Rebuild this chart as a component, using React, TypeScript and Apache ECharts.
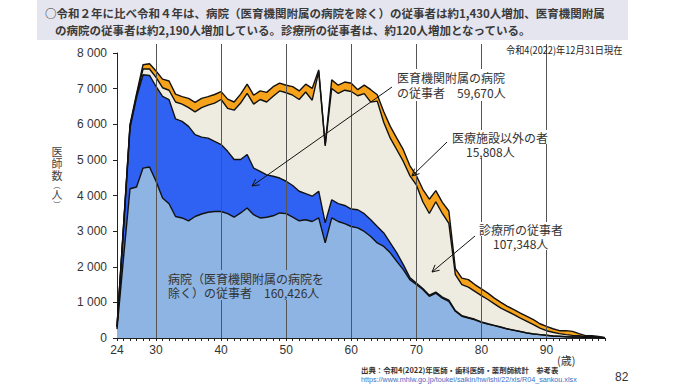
import React, { useEffect, useRef } from "react";
import * as echarts from "echarts";

const ages = [
  "24","25","26","27","28","29","30","31","32","33","34","35","36","37","38","39",
  "40","41","42","43","44","45","46","47","48","49","50","51","52","53","54","55",
  "56","57","58","59","60","61","62","63","64","65","66","67","68","69","70","71",
  "72","73","74","75","76","77","78","79","80","81","82","83","84","85","86","87",
  "88","89","90","91","92","93","94","95","96","97","98","99",
];

// 病院（医育機関附属の病院を除く）の従事者
const hospital = [
  250, 2250, 4190, 4240, 4770, 4800,
  4400, 3930, 3770, 3410, 3370, 3290, 3410, 3480, 3530, 3550,
  3550, 3490, 3390, 3510, 3650, 3460, 3370, 3390, 3430, 3510,
  3490, 3390, 3290, 3320, 3270, 3370, 2670, 3370, 3270, 3210,
  3130, 3090, 2990, 2850, 2670, 2570, 2390, 2150, 1920, 1640,
  1500, 1360, 1170, 1260, 1120, 1030, 750, 610, 560, 510,
  440, 390, 346, 300, 252, 215, 178, 140, 112, 94,
  75, 56, 47, 37, 28, 28, 19, 19, 9, 2,
];
// 医育機関附属の病院の従事者
const univHospital = [
  50, 800, 1710, 2510, 2620, 2570,
  2660, 2850, 2920, 2740, 2710, 2650, 2300, 2160, 2080, 1970,
  1880, 1750, 1620, 1500, 1500, 1310, 1310, 1190, 1110, 980,
  910, 890, 830, 730, 710, 750, 560, 510, 500, 510,
  490, 510, 500, 470, 460, 380, 280, 240, 140, 60,
  40, 30, 30, 30, 30, 30, 20, 20, 15, 15,
  12, 10, 9, 8, 6, 5, 4, 4, 3, 2,
  2, 2, 1, 1, 1, 1, 1, 1, 1, 0,
];
// 診療所の従事者
const clinic = [
  15, 70, 60, 50, 160, 180,
  255, 245, 265, 475, 485, 525, 635, 825, 925, 1075,
  1265, 1205, 1385, 1585, 1715, 1795, 2015, 2045, 2245, 2445,
  2485, 2535, 2575, 2855, 2695, 3365, 2160, 3125, 3095, 3235,
  3300, 3200, 3370, 3300, 3520, 3100, 2940, 2895, 2896, 2860,
  2760, 2435, 2295, 2535, 2345, 2155, 1010, 870, 855, 785,
  738, 680, 605, 532, 492, 435, 378, 326, 260, 184,
  128, 102, 74, 56, 46, 37, 20, 20, 20, 5,
];
// 医療施設以外の者
const nonMedical = [
  10, 30, 30, 50, 120, 150,
  180, 240, 260, 220, 210, 260, 270, 260, 240, 240,
  220, 260, 230, 250, 260, 250, 240, 270, 270, 220,
  210, 240, 240, 220, 330, 40, 40, 240, 230, 230,
  230, 170, 240, 350, 180, 300, 330, 325, 330, 280,
  260, 350, 400, 310, 310, 350, 170, 180, 210, 190,
  190, 180, 160, 160, 140, 140, 140, 140, 140, 120,
  120, 100, 83, 112, 112, 56, 26, 26, 17, 5,
];

const labelAges = ["24", "30", "40", "50", "60", "70", "80", "90"];
const gridAges = ["30", "40", "50", "60", "70", "80", "90"];

const JP = "'Noto Sans CJK JP', 'Noto Sans', sans-serif";
const LAT = "'Liberation Sans', Arial, sans-serif";

function arrow(x1: number, y1: number, x2: number, y2: number) {
  const dx = x2 - x1, dy = y2 - y1;
  const L = Math.hypot(dx, dy);
  const ux = dx / L, uy = dy / L;
  const h = 7, w = 3.5;
  return [
    { type: "line", z: 30, silent: true, shape: { x1, y1, x2, y2 }, style: { stroke: "#111", lineWidth: 1 } },
    {
      type: "polyline", z: 30, silent: true,
      shape: { points: [[x2 - ux * h - uy * w, y2 - uy * h + ux * w], [x2, y2], [x2 - ux * h + uy * w, y2 - uy * h - ux * w]] },
      style: { stroke: "#111", lineWidth: 1, fill: "none" },
    },
  ];
}

function txt(text: string, x: number, y: number, font: string, fill = "#333", extra: any = {}, el: any = {}) {
  return {
    type: "text", z: 25, silent: true, x, y, ...el,
    style: { text, font, fill, verticalAlign: "middle", align: "left", ...extra },
  };
}

export default function App() {
  const ref = useRef<HTMLDivElement>(null);
  useEffect(() => {
    const chart = echarts.init(ref.current!, null, { renderer: "svg" });
    const lineStyle = { color: "#111", width: 1.4 };
    const mk = (name: string, data: number[], color: string) => ({
      name, type: "line", stack: "total", data, symbol: "none", smooth: false,
      lineStyle, areaStyle: { color, opacity: 1 }, itemStyle: { color },
    });
    chart.setOption({
      animation: false,
      grid: { left: 117, right: 72, top: 53, bottom: 49 },
      xAxis: {
        type: "category", data: ages, boundaryGap: false,
        axisLine: { lineStyle: { color: "#222", width: 1 } },
        axisTick: { show: true, interval: 0, length: 3, lineStyle: { color: "#222" } },
        axisLabel: {
          interval: (_i: number, v: string) => labelAges.includes(v),
          color: "#333", fontSize: 12, fontFamily: LAT, margin: 6,
        },
        splitLine: { show: false },
      },
      yAxis: {
        type: "value", min: 0, max: 8000, interval: 1000,
        axisLine: { show: true, lineStyle: { color: "#222", width: 1 } },
        axisTick: { show: true, length: 4, lineStyle: { color: "#222" } },
        axisLabel: {
          color: "#333", fontSize: 12, fontFamily: LAT, margin: 10,
          formatter: (v: number) => v >= 1000 ? `${Math.floor(v / 1000)} ${String(v % 1000).padStart(3, "0")}` : String(v),
        },
        splitLine: { show: false },
      },
      series: [
        mk("病院（医育機関附属の病院を除く）の従事者", hospital, "#8db4e2"),
        mk("医育機関附属の病院の従事者", univHospital, "#2f62f2"),
        mk("診療所の従事者", clinic, "#eeece1"),
        mk("医療施設以外の者", nonMedical, "#f6a21a"),
      ],
    });

    const yTop = chart.convertToPixel({ yAxisIndex: 0 }, 8000) as number;
    const yBot = chart.convertToPixel({ yAxisIndex: 0 }, 0) as number;
    const grid = gridAges.map((a) => {
      const x = Math.round(chart.convertToPixel({ xAxisIndex: 0 }, a) as number) + 0.5;
      return { type: "line", z: 10, silent: true, shape: { x1: x, y1: yTop - 9, x2: x, y2: yBot }, style: { stroke: "#555", lineWidth: 1 } };
    });

    const vName = ([
      ["医", 151, 11], ["師", 163, 11], ["数", 175, 11], ["︵", 184.5, 7], ["人", 194, 11], ["︶", 203.5, 7],
    ] as [string, number, number][]).map(([c, y, fs]) => ({
      type: "text", z: 25, silent: true, x: 57, y,
      style: { text: c, font: `${fs}px ${JP}`, fill: "#444", align: "center", verticalAlign: "middle" },
    }));

    const f12 = `12px ${JP}`;
    const wbg = { backgroundColor: "#fff", padding: [1, 2, 1, 2] };
    chart.setOption({
      graphic: [
        { type: "rect", z: 1, silent: true, shape: { x: 37, y: 0, width: 591, height: 40 }, style: { fill: "#e5e5ef" } },
        txt("○令和２年に比べ令和４年は、病院（医育機関附属の病院を除く）の従事者は約1,430人増加、医育機関附属", 45, 13, `bold 11.5px ${JP}`, "#3a3a3a"),
        txt("の病院の従事者は約2,190人増加している。診療所の従事者は、約120人増加となっている。", 55, 30, `bold 11.5px ${JP}`, "#3a3a3a"),
        txt("令和4(2022)年12月31日現在", 506, 50, `10px ${JP}`, "#222", {}, { scaleX: 0.92 }),
        ...grid,
        ...vName,
        txt("医育機関附属の病院\nの従事者　59,670人", 395, 85, f12, "#333", { lineHeight: 15, ...wbg }),
        txt("医療施設以外の者", 450, 137, f12, "#333", wbg),
        txt("15,808人", 464, 151, f12, "#333", wbg),
        txt("診療所の従事者", 477, 229, f12, "#333", wbg),
        txt("107,348人", 491, 243, f12, "#333", wbg),
        txt("病院（医育機関附属の病院を\n除く）の従事者　160,426人", 166, 285, f12, "#333", { lineHeight: 14, backgroundColor: "#8db4e2", padding: [1, 2, 1, 2] }),
        ...arrow(392, 87, 252, 186),
        ...arrow(447, 142, 412, 176),
        ...arrow(475, 236, 432, 272),
        txt("(歳)", 557, 360, `11px ${JP}`, "#333"),
        txt("出典：令和4(2022)年医師・歯科医師・薬剤師統計　参考表", 361, 369, `bold 7.4px ${JP}`, "#333"),
        txt("https://www.mhlw.go.jp/toukei/saikin/hw/ishi/22/xls/R04_sankou.xlsx", 361, 379, `7.2px ${LAT}`, "#3f6cc4"),
        txt("82", 615, 377, `12px ${LAT}`, "#333"),
      ],
    });
    return () => chart.dispose();
  }, []);
  return <div ref={ref} style={{ position: "fixed", left: 0, top: 0, width: 677, height: 387, background: "#fff" }} />;
}
